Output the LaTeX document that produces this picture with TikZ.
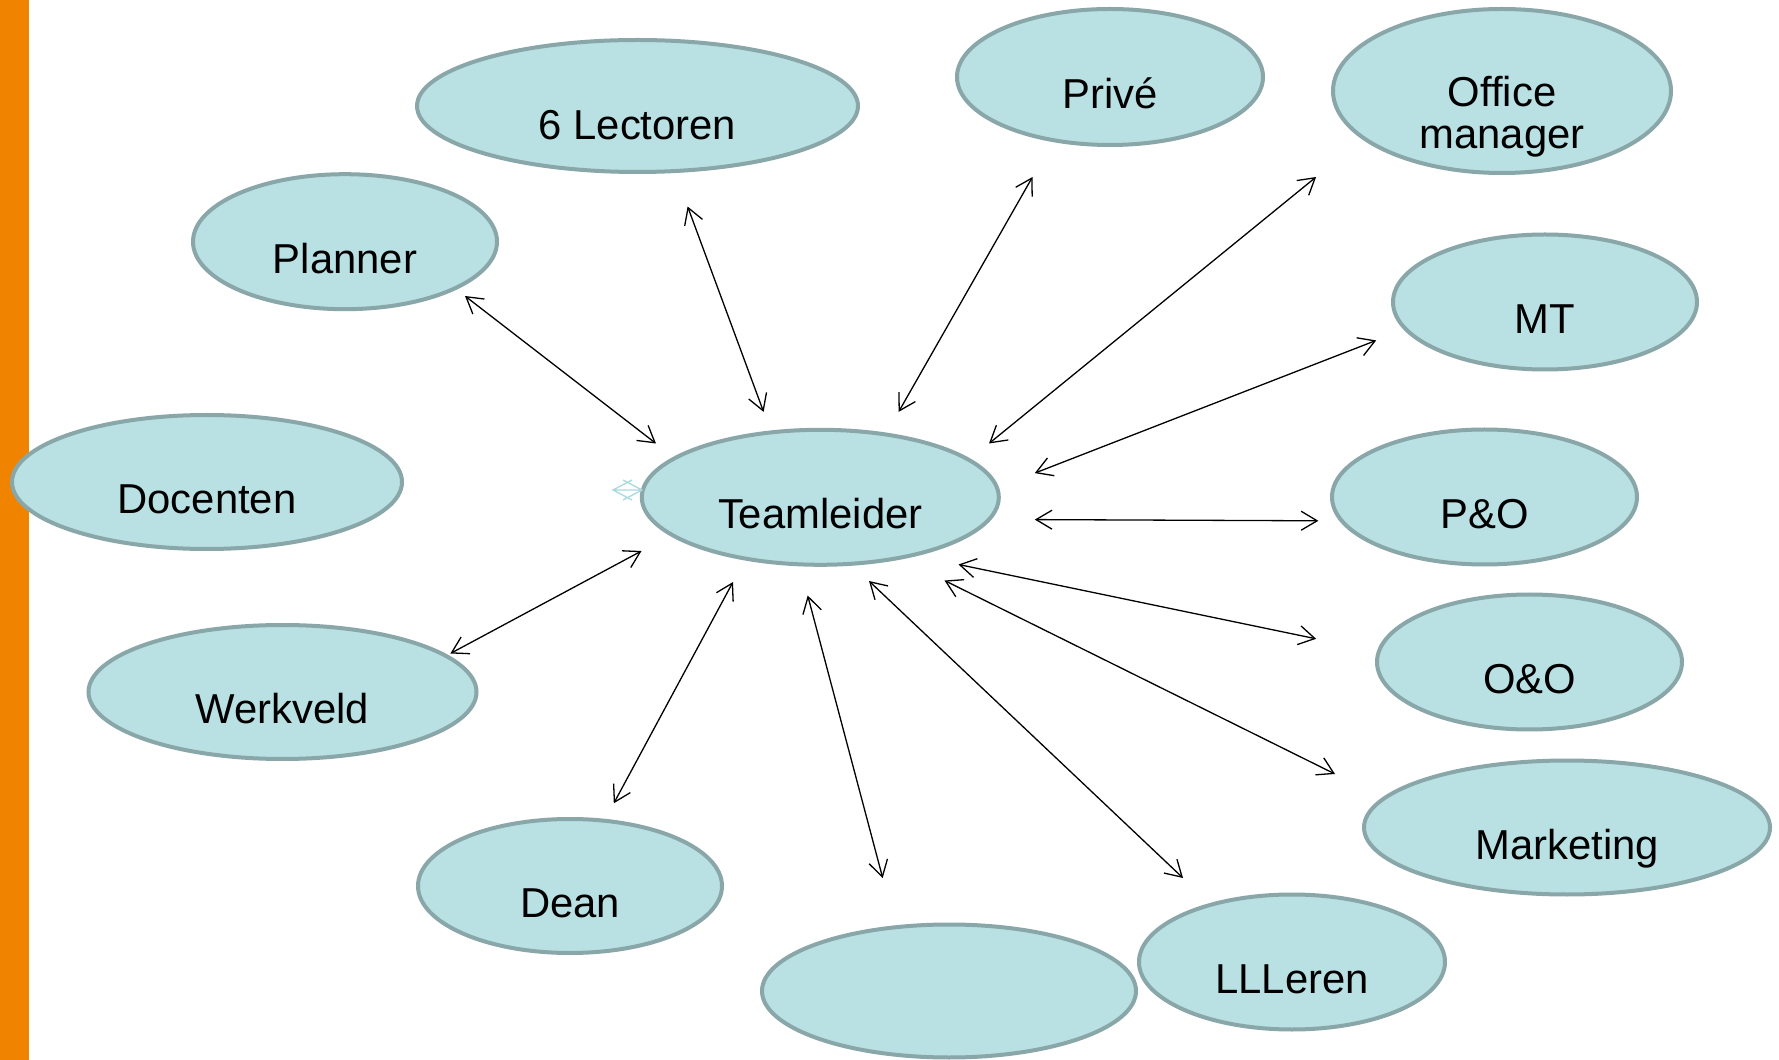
\documentclass[tikz,border=0pt]{standalone}
\usepackage{fontspec}
\setmainfont{Liberation Sans}
\usetikzlibrary{shapes.geometric,arrows.meta}

\definecolor{barorange}{RGB}{240,131,0}
\definecolor{bubfill}{RGB}{185,224,227}
\definecolor{bubline}{RGB}{137,166,168}
\definecolor{handle}{RGB}{170,218,223}

\tikzset{
  bub/.style 2 args={ellipse, draw=bubline, fill=bubfill, line width=0.08cm,
    inner sep=0pt, minimum width=#1*0.02cm, minimum height=#2*0.02cm},
  lbl/.style={anchor=base, inner sep=0pt, font=\fontsize{23.8}{23.8}\selectfont},
  link/.style={line width=0.026cm,
    {Straight Barb[length=0.32cm,width=0.38cm]}-{Straight Barb[length=0.32cm,width=0.38cm]}},
}

\begin{document}
\begin{tikzpicture}[x=0.02cm,y=-0.02cm]
\useasboundingbox (0,0) rectangle (1779,1060);
\fill[white] (0,0) rectangle (1779,1060);

% orange side bar
\fill[barorange] (0,0) rectangle (29,1060);

% bubbles
\node[bub={441}{132}] (lect)   at (637.5,106) {};
\node[bub={306}{136}] (prive)  at (1110,77) {};
\node[bub={338}{164}] (office) at (1502,91) {};
\node[bub={304}{135}] (plan)   at (345,241.7) {};
\node[bub={304}{135}] (mt)     at (1545,302) {};
\node[bub={390}{134}] (doc)    at (207,482) {};
\node[bub={357}{135}] (team)   at (820.3,497.3) {};
\node[bub={305}{135}] (po)     at (1484.5,497) {};
\node[bub={305}{135}] (oo)     at (1529.5,662) {};
\node[bub={388}{134}] (werk)   at (282.5,692) {};
\node[bub={406}{134}] (mark)   at (1567,827.5) {};
\node[bub={304}{134}] (dean)   at (570,886) {};
\node[bub={374}{133}] (blank)  at (949,991) {};
\node[bub={306}{135}] (lll)    at (1292,962) {};

% labels
\node[lbl] (t-lect)  at ([yshift=-33.5*0.02cm]lect.center)  {6 Lectoren};
\node[lbl] (t-prive) at ([yshift=-31.6*0.02cm]prive.center) {Privé};
\node[lbl] (t-off1)  at (1502,106.7) {Office};
\node[lbl] (t-off2)  at (1502,148.3) {manager};
\node[lbl] (t-plan)  at ([yshift=-31.6*0.02cm]plan.center)  {Planner};
\node[lbl] (t-mt)    at ([yshift=-31.6*0.02cm]mt.center)    {MT};
\node[lbl] (t-doc)   at ([yshift=-31.6*0.02cm]doc.center)   {Docenten};
\node[lbl] (t-team)  at ([yshift=-31.6*0.02cm]team.center)  {Teamleider};
\node[lbl] (t-po)    at ([yshift=-31.6*0.02cm]po.center)    {P\&O};
\node[lbl] (t-oo)    at ([yshift=-31.6*0.02cm]oo.center)    {O\&O};
\node[lbl] (t-werk)  at ([yshift=-31.6*0.02cm]werk.center)  {Werkveld};
\node[lbl] (t-mark)  at ([yshift=-31.6*0.02cm]mark.center)  {Marketing};
\node[lbl] (t-dean)  at ([yshift=-31.6*0.02cm]dean.center)  {Dean};
\node[lbl] (t-lll)   at ([yshift=-31.6*0.02cm]lll.center)   {LLLeren};

% connector end points
\coordinate (plan-e)  at (465,296);    \coordinate (team-plan)  at (656,443.5);
\coordinate (lect-e)  at (687.6,206.5);\coordinate (team-lect)  at (763.6,411.9);
\coordinate (prive-e) at (1032.5,177); \coordinate (team-prive) at (898.6,411.9);
\coordinate (off-e)   at (1316.1,177); \coordinate (team-off)   at (989,443.5);
\coordinate (mt-e)    at (1376.2,340.4);\coordinate (team-mt)   at (1034.8,473.1);
\coordinate (po-e)    at (1318.4,520.8);\coordinate (team-po)   at (1034.8,519.6);
\coordinate (oo-e)    at (1316.1,638.8);\coordinate (team-oo)   at (958.5,564.5);
\coordinate (mark-e)  at (1335,774);   \coordinate (team-mark)  at (944.5,580.5);
\coordinate (lll-e)   at (1183,878);   \coordinate (team-lll)   at (869,581);
\coordinate (blank-e) at (882.7,878);  \coordinate (team-blank) at (807.7,595.5);
\coordinate (dean-e)  at (613.8,803.3);\coordinate (team-dean)  at (733,582);
\coordinate (werk-e)  at (450.4,653.5);\coordinate (team-werk)  at (641.5,551);

% connectors
\draw[link] (plan-e)  -- (team-plan);
\draw[link] (lect-e)  -- (team-lect);
\draw[link] (prive-e) -- (team-prive);
\draw[link] (off-e)   -- (team-off);
\draw[link] (mt-e)    -- (team-mt);
\draw[link] (team-po) -- (po-e);
\draw[link] (team-oo) -- (oo-e);
\draw[link] (team-mark) -- (mark-e);
\draw[link] (team-lll)  -- (lll-e);
\draw[link] (team-blank) -- (blank-e);
\draw[link] (team-dean)  -- (dean-e);
\draw[link] (team-werk)  -- (werk-e);

% small collapsed double arrow beside the team leader
\coordinate (hd-l) at (613,490);
\coordinate (hd-r) at (642,490);
\draw[handle, line width=0.026cm] (hd-l) -- (hd-r)
  (632,480) -- (hd-l) -- (632,500)
  (623,480) -- (hd-r) -- (623,500);
\end{tikzpicture}
\end{document}
